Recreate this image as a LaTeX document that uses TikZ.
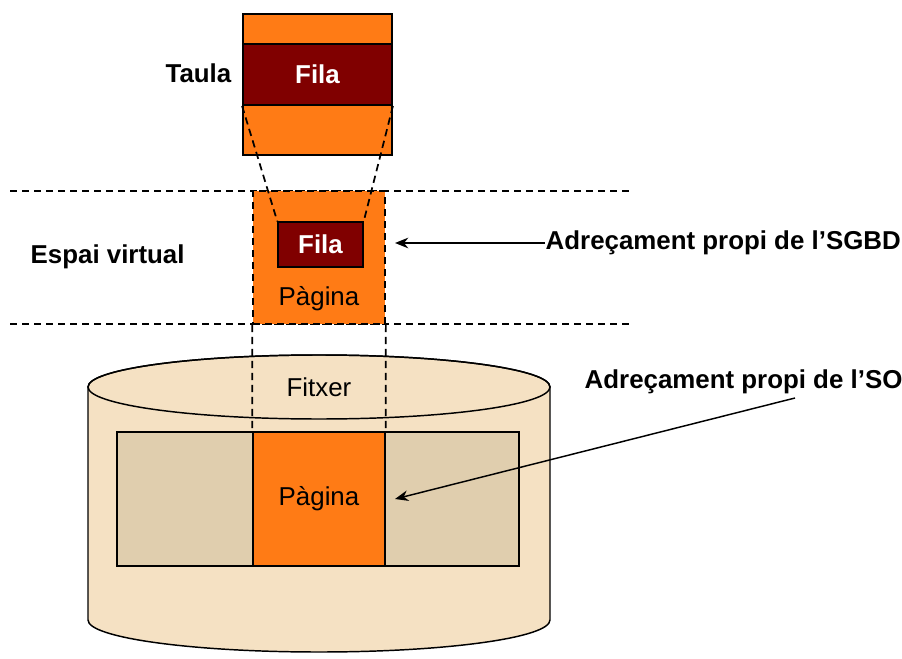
\documentclass[tikz,border=0pt]{standalone}
\usepackage{fontspec}
\setmainfont{Liberation Sans}
\usetikzlibrary{positioning}
\usetikzlibrary{arrows.meta}
\definecolor{pgorange}{RGB}{255,123,21}
\definecolor{filared}{RGB}{128,0,0}
\definecolor{diskfill}{RGB}{245,225,195}
\definecolor{blockfill}{RGB}{224,206,174}

\begin{document}
\begin{tikzpicture}[x=0.75pt,y=-0.75pt,>={Stealth[length=10pt,width=8pt]},line width=1.1pt]
\tikzstyle{lbl}=[font=\fontsize{19.4}{22}\selectfont\bfseries,inner sep=0pt]
\tikzstyle{txt}=[font=\fontsize{19.4}{22}\selectfont,inner sep=0pt]
\tikzstyle{box}=[rectangle,draw,fill=pgorange,inner sep=0pt,line width=1.4pt]
\tikzstyle{fila}=[box,fill=filared,text=white,font=\fontsize{19.4}{22}\selectfont\bfseries]
\tikzstyle{blk}=[rectangle,draw,fill=blockfill,inner sep=0pt,line width=1pt]
\tikzstyle{dsh}=[dash pattern=on 5.5pt off 3.5pt,line width=1.3pt]
\useasboundingbox (0,0) rectangle (902,659);
% taula
\node[box, minimum width=111.75pt, minimum height=105.75pt]	(taula)	at (317.5,84.5)	{};
\node[fila, minimum width=111.75pt, minimum height=45.75pt]	(filaT)	at (317.5,74.5)	{Fila};
\node[lbl, anchor=east]	(taulaL)	at (232,73)	{Taula};
% espai virtual
\draw[dsh] (10,191) -- (632,191);
\draw[dsh] (10,324) -- (632,324);
\node[box, dsh, minimum width=99pt, minimum height=99.75pt]	(pagV)	at (319,257.5)	{};
\node[fila, line width=1.1pt, minimum width=63.75pt, minimum height=33.75pt]	(filaV)	at (320.5,244.5)	{Fila};
\node[txt]	(pagVL)	at (319,299)	{Pàgina};
\node[lbl, anchor=west]	(espai)	at (30,257)	{Espai virtual};
\draw[dsh] (filaT.south west) -- (filaV.north west);
\draw[dsh] (filaT.south east) -- (filaV.north east);
% fitxer
\filldraw[fill=diskfill] (88,387) -- (88,620) arc[start angle=180,end angle=360,x radius=173.25pt,y radius=24pt]
	-- (550,387) arc[start angle=0,end angle=180,x radius=173.25pt,y radius=24pt] -- cycle;
\draw (319,387) ellipse [x radius=173.25pt, y radius=24pt];
\node[txt]	(fitxer)	at (319,387)	{Fitxer};
\node[blk, minimum width=102pt, minimum height=100.5pt]	(blockL)	at (185,499)	{};
\node[blk, minimum width=100.5pt, minimum height=100.5pt]	(blockR)	at (452,499)	{};
\node[box, line width=1pt, minimum width=99pt, minimum height=100.5pt]	(pagF)	at (319,499)	{};
\node[txt]	(pagFL)	at (319,499)	{Pàgina};
\draw[dsh] (pagV.south west) -- (pagF.north west);
\draw[dsh] (pagV.south east) -- (pagF.north east);
% adrecament
\node[lbl, anchor=west]	(sgbd)	at (545,243)	{Adreçament propi de l’SGBD};
\node[lbl, anchor=west]	(so)	at (584,382)	{Adreçament propi de l’SO};
\coordinate (tipA) at (395,243);
\coordinate (srcB) at (795,398);
\coordinate (tipB) at (395,499);
\draw[->] (sgbd.west) -- (tipA);
\draw[->] (srcB) -- (tipB);
\end{tikzpicture}
\end{document}
